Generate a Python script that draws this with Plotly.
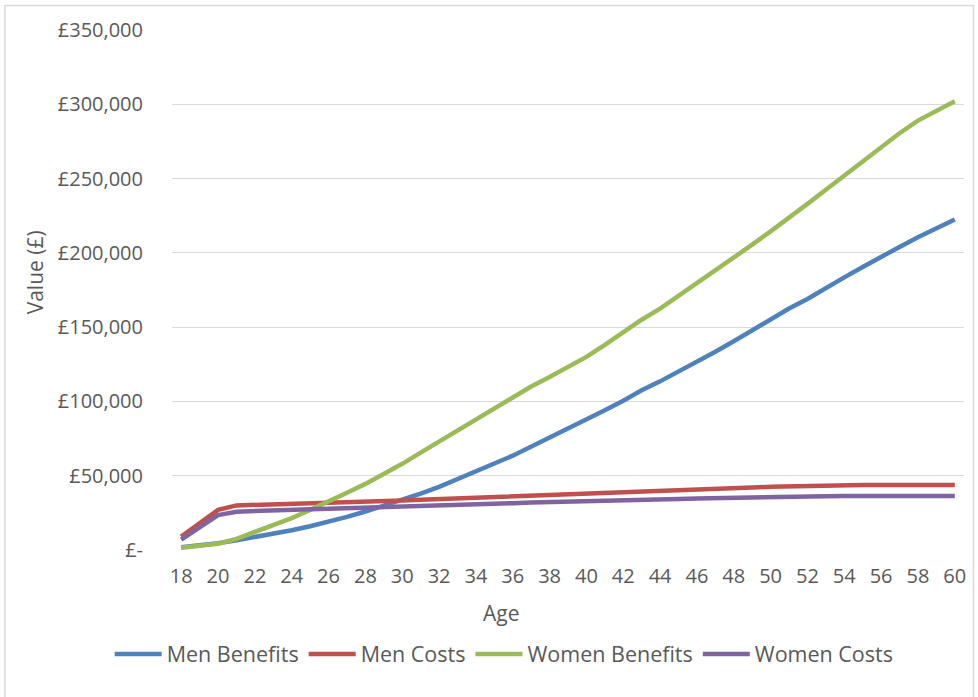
import plotly.graph_objects as go

# Age on the horizontal axis
ages = list(range(18, 61))

# Cumulative values in pounds, one entry per age 18..60
men_benefits = [
    1800, 2800, 4500, 6500, 8600, 10800, 13300, 16000, 19000, 22300,
    25900, 29700, 33700, 38000, 42500, 47500, 53000, 58200, 63500, 69500,
    75500, 81500, 87500, 94000, 100500, 107500, 113500, 120000, 127000, 133500,
    140500, 148000, 155000, 162500, 169000, 176500, 183500, 190500, 197500, 204000,
    210500, 216500, 222500,
]
men_costs = [
    9000, 18000, 27000, 30000, 30300, 30700, 31000, 31400, 31800, 32200,
    32600, 33000, 33400, 33800, 34300, 34800, 35300, 35800, 36300, 36800,
    37300, 37800, 38300, 38800, 39300, 39700, 40100, 40500, 40900, 41300,
    41700, 42100, 42500, 42900, 43300, 43600, 43800, 43800, 43800, 43800,
    43800, 43800, 43800,
]
women_benefits = [
    1500, 2500, 4200, 7500, 12000, 16500, 21500, 27000, 32500, 38500,
    44500, 51000, 58000, 65500, 73000, 80500, 88000, 95500, 103000, 110000,
    116500, 123000, 130000, 138000, 146500, 155000, 162500, 171000, 179500, 188000,
    196500, 205500, 214500, 223500, 233000, 242500, 252000, 262000, 271500, 280500,
    289000, 295500, 302000,
]
women_costs = [
    7000, 15000, 23500, 25800, 26400, 26800, 27200, 27500, 27800, 28100,
    28400, 28700, 29000, 29400, 29900, 30300, 30700, 31100, 31500, 31900,
    32300, 32600, 32900, 33200, 33500, 33800, 34100, 34400, 34700, 35000,
    35200, 35400, 35600, 35800, 36000, 36200, 36300, 36300, 36300, 36300,
    36300, 36300, 36300,
]

series_names = ["Men Benefits", "Men Costs", "Women Benefits", "Women Costs"]
series_colors = ["#4F81BD", "#C0504D", "#9BBB59", "#8064A2"]

x_ticks = list(range(18, 61, 2))
y_ticks = [0, 50000, 100000, 150000, 200000, 250000, 300000, 350000]
y_tick_labels = ["£-", "£50,000", "£100,000", "£150,000", "£200,000",
                 "£250,000", "£300,000", "£350,000"]

FONT = "Open Sans"
TEXT = "#595959"
GRID = "#D9D9D9"

W, H = 978, 697
L, R, T, B = 172, 12, 30, 147
PW, PH = W - L - R, H - T - B


def px(xpix):
    return (xpix - L) / PW


def py(ypix):
    return (H - B - ypix) / PH


fig = go.Figure()
for name, vals, col in zip(series_names,
                           [men_benefits, men_costs, women_benefits, women_costs],
                           series_colors):
    fig.add_trace(go.Scatter(x=ages, y=vals, name=name, mode="lines",
                             legendgroup=name,
                             line=dict(color=col, width=4.5)))

fig.update_layout(
    width=W, height=H,
    margin=dict(l=L, r=R, t=T, b=B),
    paper_bgcolor="white", plot_bgcolor="white",
    font=dict(family=FONT, size=20, color=TEXT),
    showlegend=True,
    legend=dict(orientation="h", x=px(505), xanchor="center",
                y=py(654), yanchor="middle", traceorder="grouped",
                tracegroupgap=17,
                font=dict(family=FONT, size=21.5, color=TEXT),
                itemwidth=47, bgcolor="rgba(0,0,0,0)"),
    xaxis=dict(range=[17.5, 60.5], tickmode="array", tickvals=x_ticks,
               showgrid=False, zeroline=False, showline=False,
               ticks="outside", ticklen=8, tickcolor="rgba(0,0,0,0)",
               tickfont=dict(family=FONT, size=20, color=TEXT)),
    yaxis=dict(range=[0, 350000], tickmode="array", tickvals=y_ticks,
               ticktext=y_tick_labels, showgrid=True, gridcolor=GRID,
               gridwidth=1, zeroline=False, showline=False,
               ticks="outside", ticklen=24, tickcolor="rgba(0,0,0,0)",
               tickfont=dict(family=FONT, size=20, color=TEXT)),
    annotations=[
        dict(text="Age", x=px(502), y=py(613), xref="paper", yref="paper",
             showarrow=False, xanchor="center", yanchor="middle",
             font=dict(family=FONT, size=21, color=TEXT)),
        dict(text="Value (£)", x=px(35), y=py(272), xref="paper", yref="paper",
             showarrow=False, xanchor="center", yanchor="middle", textangle=-90,
             font=dict(family=FONT, size=21, color=TEXT)),
    ],
    shapes=[
        dict(type="rect", xref="paper", yref="paper",
             x0=px(4.5), x1=px(975.5), y0=py(705), y1=py(5.5),
             line=dict(color=GRID, width=1.5), fillcolor="rgba(0,0,0,0)",
             layer="below"),
    ],
)

fig.write_html("out.html")
